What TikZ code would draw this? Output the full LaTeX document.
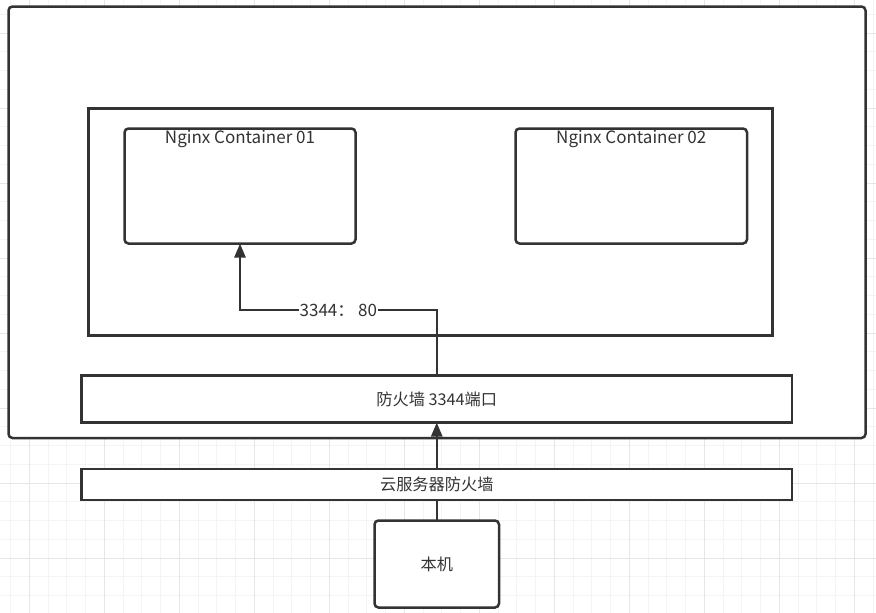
\documentclass[tikz,border=0pt]{standalone}
\usepackage{fontspec}
\setmainfont{Noto Sans CJK SC}
\usetikzlibrary{arrows.meta,calc}
\definecolor{ink}{HTML}{333333}
\definecolor{gridminor}{HTML}{F4F4F4}
\definecolor{gridmajor}{HTML}{E6E6E6}
\begin{document}
\begin{tikzpicture}[x=1pt,y=-1pt,
  box/.style={draw=ink,line width=2.5pt,fill=white,inner sep=0pt,outer sep=0pt,rectangle},
  rbox/.style={box,rounded corners=4pt},
  lbl/.style={text=ink,font=\fontsize{16.2}{19}\selectfont,inner sep=1pt},
  lat/.style={text=ink,font=\fontsize{17}{20}\selectfont,inner sep=1pt},
  arr/.style={draw=ink,line width=2.5pt,-{Triangle[length=14pt,width=11pt]}}]
\useasboundingbox (0,0) rectangle (876,613);
\fill[white] (0,0) rectangle (876,613);
% grid
\foreach \x in {10.55,29.3,...,876} \draw[gridminor,line width=1pt] (\x,0) -- (\x,613);
\foreach \y in {14.25,33,...,613} \draw[gridminor,line width=1pt] (0,\y) -- (876,\y);
\foreach \x in {29.3,104.3,...,876} \draw[gridmajor,line width=1pt] (\x,0) -- (\x,613);
\foreach \y in {33,108,...,613} \draw[gridmajor,line width=1pt] (0,\y) -- (876,\y);
% boxes
\node[rbox,minimum width=857pt,minimum height=431.5pt] (host) at (437,222.25) {};
\node[box,minimum width=684pt,minimum height=227pt] (docker) at (430.5,222) {};
\node[rbox,minimum width=231pt,minimum height=115pt] (c1) at (240,186) {};
\node[lat] (c1t) at (240,139.5) {Nginx Container 01};
\node[rbox,minimum width=231.5pt,minimum height=115pt] (c2) at (631.25,186) {};
\node[lat] (c2t) at (631.25,139.5) {Nginx Container 02};
\node[box,minimum width=710.5pt,minimum height=47pt] (fw) at (436.75,399) {};
\node[lbl] (fwt) at (436.75,399) {防火墙 3344端口};
\node[rbox,minimum width=124.5pt,minimum height=87pt] (pc) at (436.75,564) {};
\node[lbl] (pct) at (436.75,564) {本机};
% connectors
\draw[arr] (pc.north) -- (fw.south);
\node[box,minimum width=710.5pt,minimum height=31pt] (cloud) at (436.75,484.5) {};
\node[lbl] (cloudt) at (436.75,484.5) {云服务器防火墙};
\coordinate (turn) at (240,310);
\draw[arr] (fw.north) |- node[pos=0.75,fill=white,lat] (port) {3344： 80} (turn) -- (c1.south);
\end{tikzpicture}
\end{document}
